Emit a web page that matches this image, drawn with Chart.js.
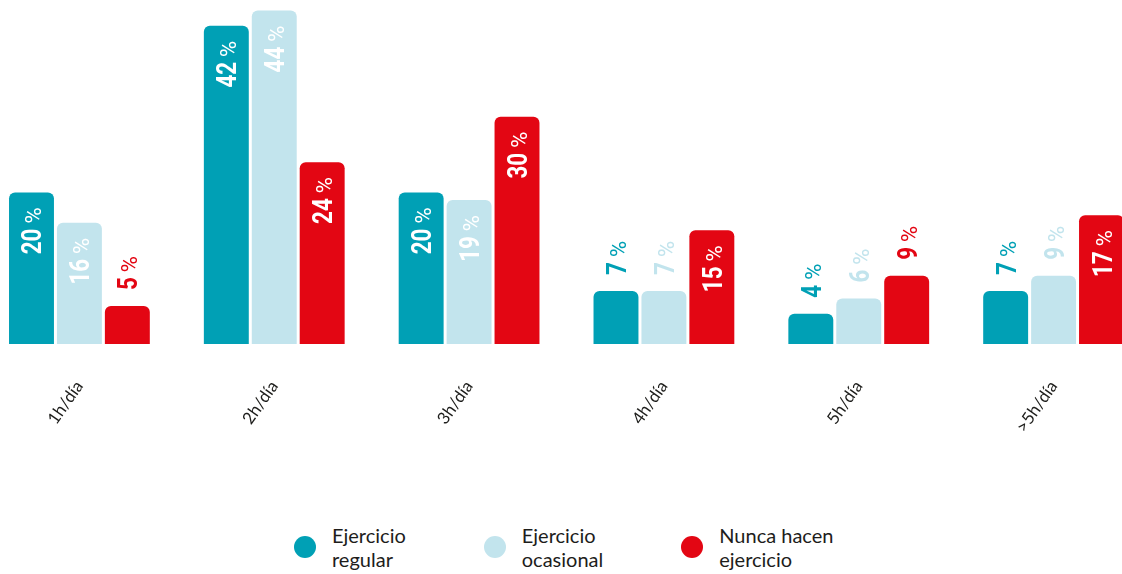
<!DOCTYPE html>
<html>
<head>
<meta charset="utf-8">
<script src="https://cdn.jsdelivr.net/npm/chart.js@4.4.1/dist/chart.umd.min.js"></script>
<style>
html, body { margin: 0; padding: 0; background: #fff; width: 1122px; height: 574px; overflow: hidden; }
#wrap { position: absolute; left: -18px; top: 0; width: 1169px; height: 480px; }
#legend { position: absolute; left: 294px; top: 523px; display: flex; gap: 78px;
  font-family: Lato, "Noto Sans", sans-serif; font-size: 20px; line-height: 24px; color: #1d1d1b; }
.item { display: flex; align-items: center; }
.dot { width: 22px; height: 22px; border-radius: 50%; margin-right: 16px; }
</style>
</head>
<body>
<div id="wrap"><canvas id="myChart"></canvas></div>
<div id="legend"></div>
<script>
var categories = ["1h/día", "2h/día", "3h/día", "4h/día", "5h/día", ">5h/día"];
var regular = [20, 42, 20, 7, 4, 7];
var ocasional = [16, 44, 19, 7, 6, 9];
var nunca = [5, 24, 30, 15, 9, 17];
var seriesNames = [["Ejercicio", "regular"], ["Ejercicio", "ocasional"], ["Nunca hacen", "ejercicio"]];
var colors = ["#00a0b5", "#c2e4ed", "#e30613"];

// value labels, rotated, inside the bar when there is room
var barLabels = {
  id: "barLabels",
  afterDatasetsDraw: function (chart) {
    var ctx = chart.ctx;
    chart.data.datasets.forEach(function (ds, i) {
      var meta = chart.getDatasetMeta(i);
      meta.data.forEach(function (bar, j) {
        var num = String(ds.data[j]);
        var sx = 0.8, cap = 20, gap = 5;
        ctx.save();
        ctx.font = "bold 28px Roboto";
        var numW = ctx.measureText(num).width * sx;
        ctx.font = "22px Roboto";
        var pctW = ctx.measureText("%").width;
        var len = numW + gap + pctW;
        var h = bar.base - bar.y;
        var inside = h > len + 50;
        var startY = inside ? bar.y + 15 + len : bar.y - 16;
        ctx.fillStyle = inside ? "#fff" : colors[i];
        ctx.translate(bar.x + cap / 2, startY);
        ctx.rotate(-Math.PI / 2);
        ctx.textAlign = "left";
        ctx.textBaseline = "alphabetic";
        ctx.save();
        ctx.scale(sx, 1);
        ctx.font = "bold 28px Roboto";
        ctx.fillText(num, 0, 0);
        ctx.restore();
        ctx.font = "22px Roboto";
        ctx.fillText("%", numW + gap, 0);
        ctx.restore();
      });
    });
  }
};

var series = [regular, ocasional, nunca];
var ctx = document.getElementById("myChart").getContext("2d");
var myChart = new Chart(ctx, {
  type: "bar",
  data: {
    labels: categories,
    datasets: series.map(function (d, i) {
      return {
        label: seriesNames[i].join(" "),
        data: d,
        backgroundColor: colors[i],
        borderRadius: 6,
        borderSkipped: "start",
        categoryPercentage: 0.738,
        barPercentage: 0.9375,
      };
    }),
  },
  options: {
    responsive: true,
    maintainAspectRatio: false,
    animation: false,
    layout: { padding: 0 },
    plugins: { legend: { display: false }, tooltip: { enabled: false } },
    scales: {
      x: {
        grid: { display: false },
        border: { display: false },
        ticks: {
          minRotation: 55,
          maxRotation: 55,
          padding: 25,
          color: "#1d1d1b",
          font: { family: "Lato", size: 17 },
        },
        afterFit: function (s) { s.height = 136; },
      },
      y: { display: false, min: 0, max: 45.4 },
    },
  },
  plugins: [barLabels],
});

var legend = document.getElementById("legend");
seriesNames.forEach(function (n, i) {
  var item = document.createElement("div");
  item.className = "item";
  item.innerHTML = '<span class="dot" style="background:' + colors[i] + '"></span><span>' + n.join("<br>") + "</span>";
  legend.appendChild(item);
});
</script>
</body>
</html>
